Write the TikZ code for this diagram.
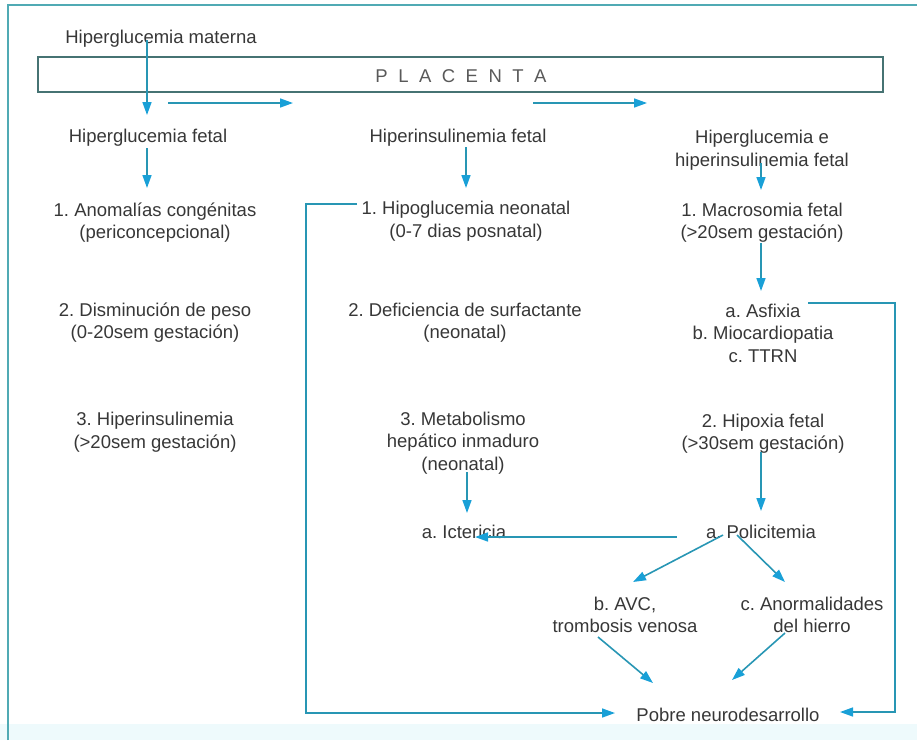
\documentclass[tikz,border=0pt]{standalone}
\usepackage{fontspec}
\setmainfont{Liberation Sans}
\usetikzlibrary{arrows.meta}
\definecolor{txt}{RGB}{55,55,55}
\definecolor{lnc}{RGB}{40,150,180}
\definecolor{hdc}{RGB}{25,160,215}
\definecolor{frm}{RGB}{80,170,180}
\definecolor{pbox}{RGB}{70,115,115}
\definecolor{pale}{RGB}{238,250,252}
\begin{document}
\frenchspacing
\begin{tikzpicture}[x=1pt,y=-1pt,
  lbl/.style={font=\fontsize{18.5}{22.5}\selectfont\frenchspacing, text=txt, align=center, inner sep=0pt},
  arr/.style={draw=lnc, line width=1.6pt, -{Triangle[length=13pt,width=9pt,fill=hdc,color=hdc]}},
  link/.style={draw=lnc, line width=1.6pt}]
\useasboundingbox (0,0) rectangle (917,740);
\fill[pale] (0,724) rectangle (917,740);
% frame
\draw[frm, line width=2pt] (8,740) -- (8,5) -- (917,5);
% placenta
\node[draw=pbox, line width=1.5pt, minimum width=845pt, minimum height=35pt, inner sep=0pt] (plac) at (460.5,74.5) {};
\node[lbl, text=black!65] (pltxt) at (461,76) {P\hspace{10.5pt}L\hspace{10.5pt}A\hspace{10.5pt}C\hspace{10.5pt}E\hspace{10.5pt}N\hspace{10.5pt}T\hspace{10.5pt}A};
% texts
\node[lbl] (mat) at (161,39) {Hiperglucemia materna};
\node[lbl] (f1) at (148,138) {Hiperglucemia fetal};
\node[lbl] (f2) at (458,138) {Hiperinsulinemia fetal};
\node[lbl] (f3) at (762,150) {Hiperglucemia e\\hiperinsulinemia fetal};
\node[lbl] (l1) at (155,222.5) {1. Anomalías congénitas\\(periconcepcional)};
\node[lbl] (l2) at (155,322.5) {2. Disminución de peso\\(0-20sem gestación)};
\node[lbl] (l3) at (155,432) {3. Hiperinsulinemia\\(>20sem gestación)};
\node[lbl] (m1) at (466,221) {1. Hipoglucemia neonatal\\(0-7 dias posnatal)};
\node[lbl] (m2) at (465,322.5) {2. Deficiencia de surfactante\\(neonatal)};
\node[lbl] (m3) at (463,443) {3. Metabolismo\\hepático inmaduro\\(neonatal)};
\node[lbl] (r1) at (762,222.5) {1. Macrosomia fetal\\(>20sem gestación)};
\node[lbl] (r2) at (763,333) {a. Asfixia\\b. Miocardiopatia\\c. TTRN};
\node[lbl] (r3) at (763,433.5) {2. Hipoxia fetal\\(>30sem gestación)};
\node[lbl] (ict) at (464,532) {a. Ictericia};
\node[lbl] (pol) at (761,532) {a. Policitemia};
\node[lbl] (avc) at (625,615) {b. AVC,\\trombosis venosa};
\node[lbl] (anor) at (812,615) {c. Anormalidades\\del hierro};
\node[lbl] (pobre) at (728,715) {Pobre neurodesarrollo};
% coordinates for free ends
\coordinate (s1) at (147,40);   \coordinate (e1) at (147,115);
\coordinate (s2) at (168,103);  \coordinate (e2) at (293,103);
\coordinate (s3) at (533,103);  \coordinate (e3) at (647,103);
\coordinate (s4) at (147,148);  \coordinate (e4) at (147,188);
\coordinate (s5) at (466,147);  \coordinate (e5) at (466,188);
\coordinate (s6) at (761,163);  \coordinate (e6) at (761,190);
\coordinate (s7) at (761,243);  \coordinate (e7) at (761,291);
\coordinate (s8) at (761,452);  \coordinate (e8) at (761,511);
\coordinate (s9) at (467,472);  \coordinate (e9) at (467,513);
\coordinate (s10) at (677,537); \coordinate (e10) at (475,537);
\coordinate (s11) at (723,535); \coordinate (e11) at (633,582);
\coordinate (s12) at (737,535); \coordinate (e12) at (785,582);
\coordinate (s13) at (598,637); \coordinate (e13) at (653,683);
\coordinate (s14) at (785,633); \coordinate (e14) at (732,680);
\coordinate (s15) at (357,204); \coordinate (c15) at (306,713); \coordinate (e15) at (615,713);
\coordinate (s16) at (808,303); \coordinate (c16) at (895,712); \coordinate (e16) at (840,712);
% connectors
\draw[arr] (s1) -- (e1);
\draw[arr] (s2) -- (e2);
\draw[arr] (s3) -- (e3);
\draw[arr] (s4) -- (e4);
\draw[arr] (s5) -- (e5);
\draw[arr] (s6) -- (e6);
\draw[arr] (s7) -- (e7);
\draw[arr] (s8) -- (e8);
\draw[arr] (s9) -- (e9);
\draw[arr] (s10) -- (e10);
\draw[arr] (s11) -- (e11);
\draw[arr] (s12) -- (e12);
\draw[arr] (s13) -- (e13);
\draw[arr] (s14) -- (e14);
\draw[arr] (s15) -- (s15 -| c15) -- (c15) -- (e15);
\draw[arr] (s16) -- (s16 -| c16) -- (c16) -- (e16);
\end{tikzpicture}
\end{document}
